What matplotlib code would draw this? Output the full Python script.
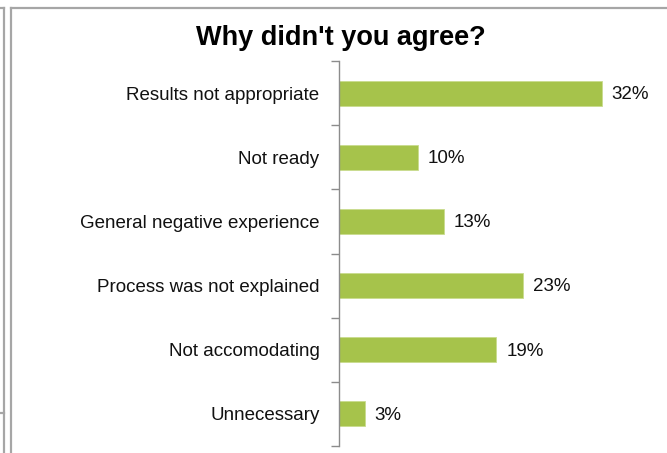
import matplotlib
matplotlib.use("Agg")
import matplotlib.pyplot as plt
from matplotlib.lines import Line2D

# survey answers, top to bottom
reasons = ["Results not appropriate", "Not ready", "General negative experience",
           "Process was not explained", "Not accomodating", "Unnecessary"]
shares = [32.4, 9.7, 12.9, 22.7, 19.4, 3.2]

plt.rcParams['font.family'] = ['Liberation Sans', 'DejaVu Sans']

W, H = 667, 453
fig = plt.figure(figsize=(W / 100, H / 100), dpi=100)

# axes placed to match the reference pixel layout
left, top, bottom = 339, 61, 446
xmax = 38
pxper = 263 / 32.4
ax = fig.add_axes([left / W, 1 - bottom / H, xmax * pxper / W, (bottom - top) / H])

n = len(reasons)
pos = list(range(n))
ax.barh(pos, shares, height=0.39, color='#A6C34B', edgecolor='#C9DC8E', linewidth=0.6)
for p, v in zip(pos, shares):
    ax.text(v + 1.2, p + 0.02, "%d%%" % round(v), va='center', ha='left', fontsize=13.5, color='#111111')

ax.set_xlim(0, xmax)
ax.set_ylim(n - 0.5, -0.5)
ax.set_yticks(pos)
ax.set_yticklabels(reasons, fontsize=13.5, color='#111111')
ax.set_yticks([i - 0.5 for i in range(n + 1)], minor=True)
ax.tick_params(axis='y', which='major', length=0, pad=14)
ax.tick_params(axis='y', which='minor', length=6, color='#8c8c8c', width=1)
ax.set_xticks([])
for s in ['top', 'right', 'bottom']:
    ax.spines[s].set_visible(False)
ax.spines['left'].set_color('#8c8c8c')
ax.spines['left'].set_linewidth(1)

fig.text(341 / W, 1 - 38 / H, "Why didn't you agree?", ha='center', va='center',
         fontsize=19.5, fontweight='bold', color='#000000')

# outer frame of the slide panel and neighbouring panel edge
gray = '#a6a6a6'
for xs, ys in [((11, 11), (8, 460)), ((11, 680), (8, 8)),
               ((3.5, 3.5), (8, 460)), ((-5, 3.5), (8, 8)), ((-5, 3.5), (413, 413))]:
    fig.add_artist(Line2D([x / W for x in xs], [1 - y / H for y in ys], color=gray, lw=1.6))

fig.savefig("out.png", dpi=100)
